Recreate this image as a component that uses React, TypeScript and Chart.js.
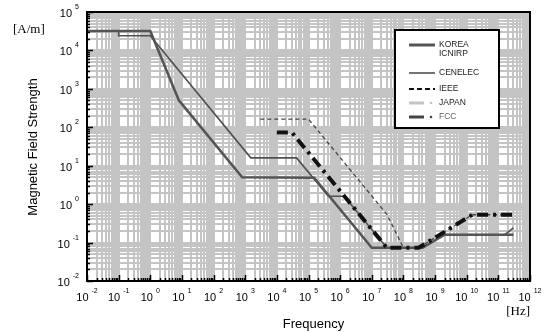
import React, { useEffect, useRef } from 'react';
import { Chart, registerables } from 'chart.js';

Chart.register(...registerables);

// ---- tick labels (powers of ten) ----
const xTickExponents = [-2, -1, 0, 1, 2, 3, 4, 5, 6, 7, 8, 9, 10, 11, 12];
const yTickExponents = [-2, -1, 0, 1, 2, 3, 4, 5];

// ---- series (frequency in Hz, magnetic field strength in A/m) ----
const icnirpFreq = [0.01, 1, 8, 800, 1.5e5, 1e7, 4e8, 2e9, 3e11];
const icnirpH = [32000, 32000, 500, 5, 4.87, 0.073, 0.073, 0.16, 0.16];

const cenelecFreq = [0.01, 0.1, 0.1, 1, 1500, 42000, 425000, 1.34e6, 3e7, 4e8, 2e9, 1.6e11, 3e11];
const cenelecH = [32000, 32000, 24000, 24000, 16, 16, 1.6, 1.6, 0.073, 0.073, 0.16, 0.16, 0.24];

const ieeeFreq = [3000, 1e5, 3e7, 1e8, 3e8, 1.5e10, 3e11];
const ieeeH = [163, 163, 0.543, 0.0729, 0.0729, 0.53, 0.53];

const japanFreq = [1e4, 3e4, 3e6, 3e7, 3e8, 1.5e9, 3e11];
const japanH = [51.9, 51.9, 0.519, 0.0729, 0.0729, 0.163, 0.163];

const fccFreq = [1e4, 3e4, 3e7, 3e8, 1.5e10, 3e11];
const fccH = [73, 73, 0.073, 0.073, 0.53, 0.53];

const legendLabels = [['KOREA', 'ICNIRP'], ['CENELEC'], ['IEEE'], ['JAPAN'], ['FCC']];

const toPoints = (f: number[], h: number[]) => f.map((x, i) => ({ x, y: h[i] }));

const buildTicks = (exps: number[]) => {
  const out: { value: number }[] = [];
  for (let i = 0; i < exps.length; i++) {
    const e = exps[i];
    if (i === exps.length - 1) {
      out.push({ value: Math.pow(10, e) });
    } else {
      for (let m = 1; m <= 9; m++) out.push({ value: m * Math.pow(10, e) });
    }
  }
  return out;
};

const isPow10 = (v: number) => {
  const l = Math.log10(v);
  return Math.abs(l - Math.round(l)) < 1e-9;
};

const SANS = '"Liberation Sans", Arial, sans-serif';
const SERIF = '"Liberation Serif", "Times New Roman", serif';

const decorPlugin = {
  id: 'decor',
  afterDatasetsDraw(chart: any) {
    const { ctx, chartArea: a, scales } = chart;
    const xs = scales.x;
    const ys = scales.y;
    ctx.save();
    // inward tick marks
    ctx.strokeStyle = '#000';
    ctx.lineWidth = 1.5;
    for (const t of xs.ticks) {
      const px = Math.round(xs.getPixelForValue(t.value)) + 0.5;
      const len = isPow10(t.value) ? 6 : 3;
      ctx.beginPath();
      ctx.moveTo(px, a.bottom);
      ctx.lineTo(px, a.bottom - len);
      ctx.stroke();
    }
    for (const t of ys.ticks) {
      const py = Math.round(ys.getPixelForValue(t.value)) + 0.5;
      const len = isPow10(t.value) ? 6 : 3;
      ctx.beginPath();
      ctx.moveTo(a.left, py);
      ctx.lineTo(a.left + len, py);
      ctx.stroke();
    }
    // frame
    ctx.lineWidth = 2;
    ctx.strokeStyle = '#000';
    ctx.strokeRect(a.left, a.top, a.right - a.left, a.bottom - a.top);

    // legend box
    const bx = 395, by = 30, bw = 104, bh = 98;
    ctx.fillStyle = '#fff';
    ctx.fillRect(bx, by, bw, bh);
    ctx.lineWidth = 2;
    ctx.strokeRect(bx, by, bw, bh);

    const rows = [
      { y: 45, color: '#555', w: 3, dash: [] as number[], dot: false, textColor: '#222' },
      { y: 73, color: '#444', w: 1.5, dash: [], dot: false, textColor: '#222' },
      { y: 89, color: '#111', w: 2, dash: [5, 3], dot: false, textColor: '#222' },
      { y: 103, color: '#c4c4c4', w: 3, dash: [], dot: true, textColor: '#222' },
      { y: 117, color: '#444', w: 3, dash: [], dot: true, textColor: '#666' },
    ];
    ctx.font = `8.5px ${SANS}`;
    ctx.textBaseline = 'middle';
    ctx.textAlign = 'left';
    rows.forEach((r, i) => {
      ctx.strokeStyle = r.color;
      ctx.lineWidth = r.w;
      ctx.setLineDash(r.dash);
      ctx.beginPath();
      ctx.moveTo(409, r.y);
      ctx.lineTo(r.dot ? 424 : 435, r.y);
      ctx.stroke();
      ctx.setLineDash([]);
      if (r.dot) {
        ctx.fillStyle = r.color;
        ctx.beginPath();
        ctx.arc(431, r.y, 1.3, 0, Math.PI * 2);
        ctx.fill();
      }
      ctx.fillStyle = r.textColor;
      const lines = legendLabels[i];
      lines.forEach((s, j) => ctx.fillText(s, 439, r.y + j * 9));
    });
    ctx.restore();
  },
  afterDraw(chart: any) {
    const { ctx, chartArea: a, scales } = chart;
    const xs = scales.x;
    const ys = scales.y;
    ctx.save();
    ctx.fillStyle = '#000';
    ctx.textBaseline = 'middle';
    // x tick labels
    xTickExponents.forEach((e) => {
      const px = xs.getPixelForValue(Math.pow(10, e));
      const base = '10';
      const ex = String(e);
      ctx.font = `11px ${SANS}`;
      const wb = ctx.measureText(base).width;
      ctx.font = `7px ${SANS}`;
      const we = ctx.measureText(ex).width;
      const gap = 3;
      const total = wb + gap + we;
      const x0 = px - total / 2;
      ctx.textAlign = 'left';
      ctx.font = `11px ${SANS}`;
      ctx.fillText(base, x0, a.bottom + 17);
      ctx.font = `7px ${SANS}`;
      ctx.fillText(ex, x0 + wb + gap, a.bottom + 10);
    });
    // y tick labels
    yTickExponents.forEach((e) => {
      const py = ys.getPixelForValue(Math.pow(10, e));
      const ex = String(e);
      ctx.font = `7px ${SANS}`;
      const we = ctx.measureText(ex).width;
      const right = 79;
      ctx.textAlign = 'left';
      ctx.fillText(ex, right - we, py - 5);
      ctx.font = `11px ${SANS}`;
      ctx.textAlign = 'right';
      ctx.fillText('10', right - we - 3, py + 2);
    });
    // axis titles
    ctx.font = `13px ${SANS}`;
    ctx.textAlign = 'center';
    ctx.fillText('Frequency', (a.left + a.right) / 2 + 5, 324);
    ctx.save();
    ctx.translate(33, 147);
    ctx.rotate(-Math.PI / 2);
    ctx.fillText('Magnetic Field Strength', 0, 0);
    ctx.restore();
    // units
    ctx.font = `13px ${SERIF}`;
    ctx.textAlign = 'left';
    ctx.fillText('[A/m]', 13, 30);
    ctx.textAlign = 'right';
    ctx.fillText('[Hz]', 530, 312);
    ctx.restore();
  },
};

export default function App() {
  const ref = useRef<HTMLCanvasElement | null>(null);
  useEffect(() => {
    if (!ref.current) return;
    const gridOpts = { color: '#c4c4c4', lineWidth: 2, drawTicks: false };
    const chart = new Chart(ref.current, {
      type: 'line',
      data: {
        datasets: [
          {
            label: 'FCC',
            data: toPoints(fccFreq, fccH),
            borderColor: '#111',
            borderWidth: 4,
            borderDash: [11, 5, 3, 5],
            borderJoinStyle: 'round',
            borderCapStyle: 'butt',
            pointRadius: 0,
            fill: false,
          },
          {
            label: 'IEEE',
            data: toPoints(ieeeFreq, ieeeH),
            borderColor: '#444',
            borderWidth: 1.3,
            borderDash: [4, 3],
            pointRadius: 0,
            fill: false,
          },
          {
            label: 'KOREA ICNIRP',
            data: toPoints(icnirpFreq, icnirpH),
            borderColor: '#555',
            borderWidth: 2.6,
            pointRadius: 0,
            fill: false,
          },
          {
            label: 'CENELEC',
            data: toPoints(cenelecFreq, cenelecH),
            borderColor: '#505050',
            borderWidth: 1.6,
            pointRadius: 0,
            fill: false,
          },
          {
            label: 'JAPAN',
            data: toPoints(japanFreq, japanH),
            borderColor: '#c4c4c4',
            borderWidth: 2,
            borderDash: [10, 4, 2, 4],
            pointRadius: 0,
            fill: false,
          },
        ],
      },
      options: {
        animation: false,
        responsive: false,
        parsing: true,
        layout: { padding: { left: 87, top: 12, right: 14, bottom: 51 } },
        plugins: { legend: { display: false }, tooltip: { enabled: false } },
        elements: { line: { tension: 0 } },
        scales: {
          x: {
            type: 'logarithmic',
            min: 0.01,
            max: 1e12,
            grid: gridOpts,
            border: { display: false },
            ticks: { display: false, autoSkip: false },
            afterBuildTicks: (s: any) => {
              s.ticks = buildTicks(xTickExponents);
            },
            afterFit: (s: any) => {
              s.height = 0;
            },
          },
          y: {
            type: 'logarithmic',
            min: 0.01,
            max: 1e5,
            grid: gridOpts,
            border: { display: false },
            ticks: { display: false, autoSkip: false },
            afterBuildTicks: (s: any) => {
              s.ticks = buildTicks(yTickExponents);
            },
            afterFit: (s: any) => {
              s.width = 0;
            },
          },
        },
      } as any,
      plugins: [decorPlugin],
    });
    return () => chart.destroy();
  }, []);
  return (
    <div style={{ position: 'fixed', left: 0, top: 0, width: 544, height: 332, background: '#fff' }}>
      <canvas ref={ref} width={544} height={332} style={{ display: 'block' }} />
    </div>
  );
}
